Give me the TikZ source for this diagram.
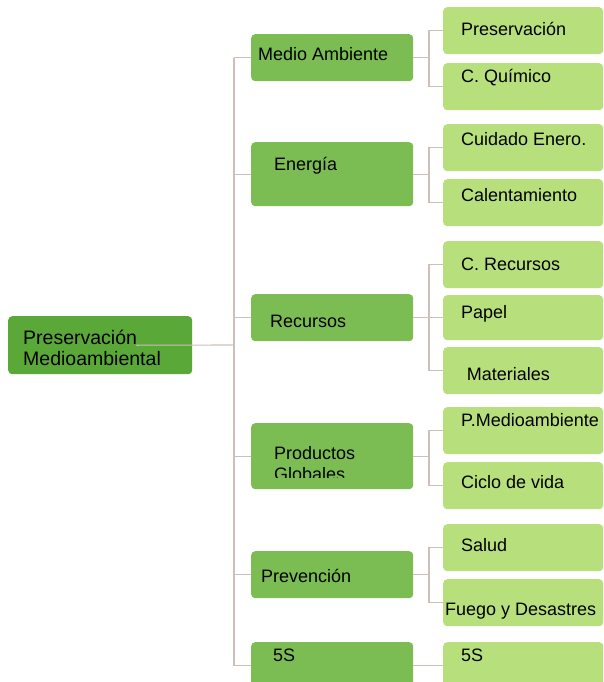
\documentclass[tikz,border=0pt]{standalone}
\usepackage{fontspec}
\setmainfont{Liberation Sans}

\definecolor{rootgreen}{RGB}{90,168,55}
\definecolor{catgreen}{RGB}{123,189,83}
\definecolor{itemgreen}{RGB}{183,224,125}
\definecolor{linkgray}{RGB}{204,192,184}

\tikzset{
  box/.style={rectangle, rounded corners=4pt, anchor=north west, inner sep=0pt},
  rootbox/.style={box, fill=rootgreen, minimum width=184pt, minimum height=58pt},
  catbox/.style={box, fill=catgreen, minimum width=162pt, minimum height=47pt},
  itembox/.style={box, fill=itemgreen, minimum width=160pt, minimum height=47pt},
  txt/.style={anchor=base west, inner sep=0pt, font=\fontsize{18}{21}\selectfont},
  roottxt/.style={txt, font=\fontsize{19.5}{21}\selectfont},
  link/.style={draw=linkgray, line width=1.1pt},
}

\begin{document}
\begin{tikzpicture}[x=1pt, y=-1pt]
	\clip (0,0) rectangle (604,682);
	
	% boxes
	\node[rootbox] (root) at (8,316) {};
	
	\node[catbox] (ma) at (251,34) {};
	\node[catbox, minimum height=64pt] (en) at (251,142) {};
	\node[catbox] (re) at (251,294) {};
	\node[catbox, minimum height=66pt] (pg) at (251,423) {};
	\node[catbox] (pv) at (251,551) {};
	\node[catbox] (s5) at (251,642) {};
	
	\node[itembox] (pres) at (443,7) {};
	\node[itembox] (quim) at (443,63) {};
	\node[itembox] (cuid) at (443,124) {};
	\node[itembox] (cal) at (443,179) {};
	\node[itembox] (crec) at (443,241) {};
	\node[itembox, minimum height=45pt] (pap) at (443,295) {};
	\node[itembox] (mat) at (443,347) {};
	\node[itembox] (pmed) at (443,407) {};
	\node[itembox] (cic) at (443,462) {};
	\node[itembox] (sal) at (443,524) {};
	\node[itembox] (fue) at (443,579) {};
	\node[itembox] (s5b) at (443,642) {};
	
	% trunk
	\coordinate (trunk) at (234,345);
	\draw[link] ([xshift=-56pt]root.east) -- (trunk);
	\draw[link] (trunk |- ma.west) -- (trunk |- s5.west);
	\draw[link] (trunk |- ma.west) -- (ma.west);
	\draw[link] (trunk |- en.west) -- (en.west);
	\draw[link] (trunk |- re.west) -- (re.west);
	\draw[link] (trunk |- pg.west) -- (pg.west);
	\draw[link] (trunk |- pv.west) -- (pv.west);
	\draw[link] (trunk |- s5.west) -- (s5.west);
	
	% branches
	\draw[link] (ma.east) -- ++(16,0);
	\draw[link] (pres.west) -- ++(-14,0) |- (quim.west);
	\draw[link] (en.east) -- ++(16,0);
	\draw[link] (cuid.west) -- ++(-14,0) |- (cal.west);
	\draw[link] (re.east) -- ++(16,0);
	\draw[link] (crec.west) -- ++(-14,0) |- (mat.west);
	\draw[link] (pap.west) -- ++(-14,0);
	\draw[link] (pg.east) -- ++(16,0);
	\draw[link] (pmed.west) -- ++(-14,0) |- (cic.west);
	\draw[link] (pv.east) -- ++(16,0);
	\draw[link] (sal.west) -- ++(-14,0) |- (fue.west);
	\draw[link] (s5.east) -- (s5b.west);
	
	% labels
	\node[roottxt] (root-t1) at (23,344) {Preservación};
	\node[roottxt] (root-t2) at (23,365) {Medioambiental};
	
	\node[txt] (ma-t) at (258,60.7) {Medio Ambiente};
	\node[txt] (en-t) at (274,170.7) {Energía};
	\node[txt] (re-t) at (270,327.7) {Recursos};
	\node[txt] (pg-t1) at (274,459) {Productos};
	\begin{scope}
		\clip (pg.north west) rectangle (413,477.7);
		\node[txt] (pg-t2) at (274,480) {Globales};
	\end{scope}
	\node[txt] (pv-t) at (261,582.3) {Prevención};
	\node[txt] (s5-t) at (273,661.7) {5S};
	
	\node[txt] (pres-t) at (461,36) {Preservación};
	\node[txt] (quim-t) at (461,82.3) {C. Químico};
	\node[txt] (cuid-t) at (461,145.7) {Cuidado Enero.};
	\node[txt] (cal-t) at (461,201) {Calentamiento};
	\node[txt] (crec-t) at (461,270.7) {C. Recursos};
	\node[txt] (pap-t) at (461,318.3) {Papel};
	\node[txt] (mat-t) at (466.7,380.7) {Materiales};
	\node[txt] (pmed-t) at (461,426.7) {P.Medioambiente};
	\node[txt] (cic-t) at (461,488.3) {Ciclo de vida};
	\node[txt] (sal-t) at (461,551.7) {Salud};
	\node[txt] (fue-t) at (445,615) {Fuego y Desastres};
	\node[txt] (s5b-t) at (461,661.7) {5S};
\end{tikzpicture}
\end{document}
